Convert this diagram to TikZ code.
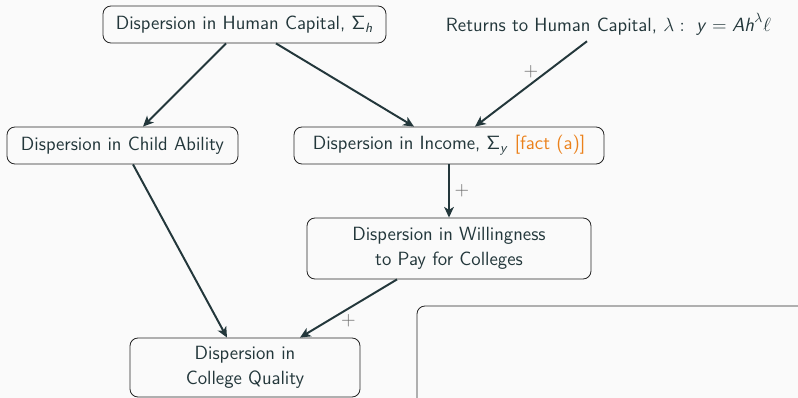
\RequirePackage{fix-cm}
\documentclass[tikz,border=0pt]{standalone}
\usetikzlibrary{arrows.meta}
\definecolor{dteal}{HTML}{23373B}
\definecolor{lorange}{HTML}{EB811B}
\definecolor{bgcol}{HTML}{FAFAFA}
\DeclareMathAlphabet{\mathsl}{OT1}{cmss}{m}{sl}
\newlength\pxu
\setlength\pxu{0.025cm}
\tikzset{
  box/.style={draw=black!85, line width=0.6pt, rounded corners=8\pxu, align=center,
    text=dteal, font=\sffamily\fontsize{13.6}{18}\selectfont, inner sep=0pt, minimum height=37\pxu},
  arr/.style={draw=dteal, line width=1.4pt, -{Stealth[length=7.5pt,width=6.8pt,inset=2pt]}},
  plus/.style={text=black!60, font=\fontsize{13.6}{16}\selectfont}
}
\begin{document}
\begin{tikzpicture}[x=0.025cm, y=-0.025cm]
\fill[bgcol] (0,0) rectangle (798,398);
\useasboundingbox (0,0) rectangle (798,398);
\clip (0,0) rectangle (798,398);
\node[box, minimum width=283\pxu] (hc) at (244.5,24.5) {Dispersion in Human Capital, $\mathsf{\Sigma}_{\mathsl{h}}$};
\node[text=dteal, font=\sffamily\fontsize{13.6}{18}\selectfont, inner sep=0pt, minimum height=37\pxu] (ret) at (608.5,24.5) {Returns to Human Capital, $\lambda:\ \mathsl{y}=\mathsl{Ah}^{\lambda}\ell$};
\node[box, minimum width=231\pxu] (child) at (122.5,145.5) {Dispersion in Child Ability};
\node[box, minimum width=310\pxu] (inc) at (449,145.5) {Dispersion in Income, $\mathsf{\Sigma}_{\mathsl{y}}$ \textcolor{lorange}{[fact (a)]}};
\node[box, minimum width=284\pxu, minimum height=61\pxu] (will) at (449,248.5) {Dispersion in Willingness\\to Pay for Colleges};
\node[box, minimum width=230\pxu, minimum height=59\pxu] (coll) at (245,367.5) {Dispersion in\\College Quality};
\node[box, minimum width=400\pxu, minimum height=120\pxu] (blank) at (617,366) {};
\draw[arr] ([xshift=-18.5\pxu]hc.south) -- ([xshift=20.5\pxu]child.north);
\draw[arr] ([xshift=31.5\pxu]hc.south) -- ([xshift=-35\pxu]inc.north);
\draw[arr] ([xshift=-21.5\pxu, yshift=2\pxu]ret.south) -- node[plus, midway, above]{$+$} ([xshift=26\pxu]inc.north);
\draw[arr] (inc.south) -- node[plus, right]{$+$} (will.north);
\draw[arr] ([xshift=10.5\pxu]child.south) -- ([xshift=-18\pxu]coll.north);
\draw[arr] ([xshift=-52\pxu]will.south) -- node[plus, midway, below]{$+$} ([xshift=55\pxu]coll.north);
\end{tikzpicture}
\end{document}
